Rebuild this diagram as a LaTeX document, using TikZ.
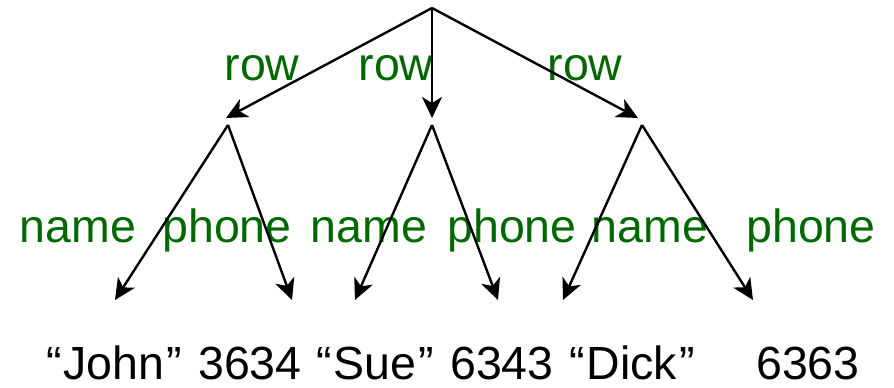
\documentclass[tikz,border=0pt]{standalone}
\usepackage{fontspec}
\setmainfont{Liberation Sans}
\usetikzlibrary{arrows.meta}
\definecolor{lblgreen}{RGB}{0,104,0}
% quoted string with slightly open spacing around the quote marks
\newcommand{\qstr}[1]{“\kern2pt#1\kern2pt”}
\begin{document}
\begin{tikzpicture}[x=1pt,y=-1pt,
  edge/.style={line width=2.4pt,-{Stealth[length=21pt,width=20pt,inset=6pt]}},
  lbl/.style={anchor=base,inner sep=0pt,text=lblgreen,font=\fontsize{46.5}{50}\selectfont},
  val/.style={anchor=base,inner sep=0pt,font=\fontsize{46.5}{50}\selectfont}]
  \useasboundingbox (0,0) rectangle (894,388);
  % tree points
  \coordinate (root) at (432,8);
  \coordinate (r1) at (226,118);
  \coordinate (r2) at (432,118);
  \coordinate (r3) at (638,118);
  \coordinate (t1) at (228,125);
  \coordinate (t2) at (432,125);
  \coordinate (t3) at (642,125);
  \coordinate (l1) at (115,300);
  \coordinate (l2) at (292,300);
  \coordinate (l3) at (355,300);
  \coordinate (l4) at (498,300);
  \coordinate (l5) at (563,300);
  \coordinate (l6) at (753,300);
  % edge labels
  \node[lbl] (rowa) at (262,80) {row};
  \node[lbl] (rowb) at (396,80) {row};
  \node[lbl] (rowc) at (585,80) {row};
  \node[lbl] (na) at (78,242) {name};
  \node[lbl] (pa) at (227,242) {phone};
  \node[lbl] (nb) at (369,242) {name};
  \node[lbl] (pb) at (512,242) {phone};
  \node[lbl] (nc) at (650,242) {name};
  \node[lbl] (pc) at (811,242) {phone};
  % edges
  \draw[edge] (root) -- (r1);
  \draw[edge] (root) -- (r2);
  \draw[edge] (root) -- (r3);
  \draw[edge] (t1) -- (l1);
  \draw[edge] (t1) -- (l2);
  \draw[edge] (t2) -- (l3);
  \draw[edge] (t2) -- (l4);
  \draw[edge] (t3) -- (l5);
  \draw[edge] (t3) -- (l6);
  % leaf values
  \node[val] (va) at (114,379) {\qstr{John}};
  \node[val] (vb) at (250,379) {3634};
  \node[val] (vc) at (375,379) {\qstr{Sue}};
  \node[val] (vd) at (502,379) {6343};
  \node[val] (ve) at (632,379) {\qstr{Dick}};
  \node[val] (vf) at (808,379) {6363};
\end{tikzpicture}
\end{document}
